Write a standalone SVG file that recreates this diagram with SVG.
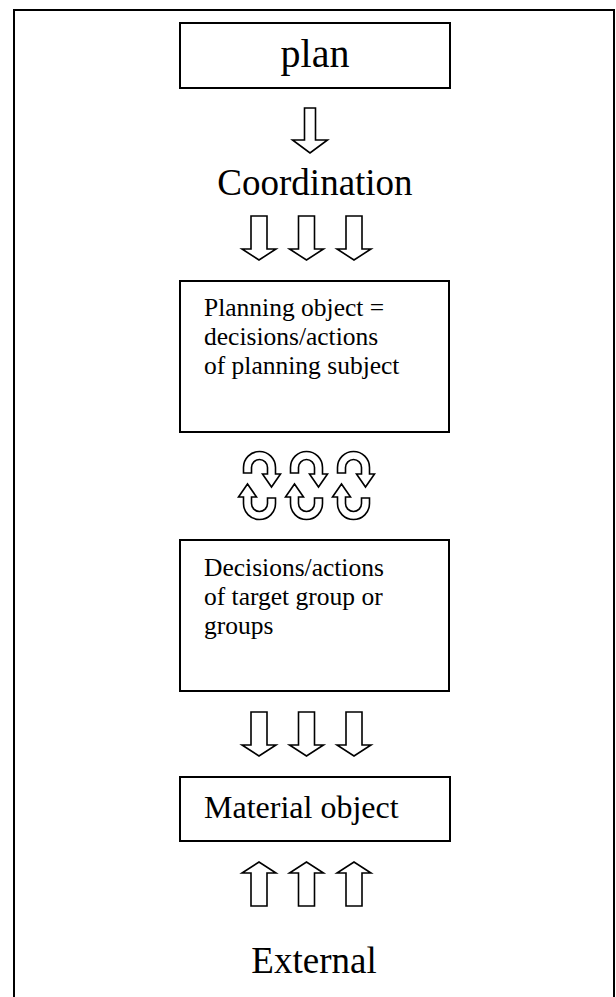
<svg xmlns="http://www.w3.org/2000/svg" xmlns:xlink="http://www.w3.org/1999/xlink" width="616" height="997" viewBox="0 0 616 997">
<style>
.box{fill:#fff;stroke:#000;stroke-width:2}
.arr{fill:#fff;stroke:#000;stroke-width:1.6;stroke-linejoin:miter}
.big{font-family:"Liberation Serif","Times New Roman",serif;font-size:37px;fill:#000;text-anchor:middle}
.sm{font-family:"Liberation Serif","Times New Roman",serif;font-size:25.5px;fill:#000}
.md{font-family:"Liberation Serif","Times New Roman",serif;font-size:32px;fill:#000}
</style>
<defs>
<path id="down" d="M-8,0 L8,0 L8,33 L17,33 L0,44 L-17,33 L-8,33 Z"/>
<path id="down1" d="M-5.5,0 L5.5,0 L5.5,32 L17.5,32 L0,45 L-17.5,32 L-5.5,32 Z"/>
<path id="uturn" d="M-16,-12.5 L-16,-18 A16,16 0 0 1 16,-18 L16,-11.5 L21,-11.5 L12,1.5 L3,-11.5 L8,-11.5 L8,-18 A8,8 0 0 0 -8,-18 L-8,-12.5 Z"/>
</defs>
<rect id="frame" x="14" y="10" width="600" height="1000" fill="#fff" stroke="#000" stroke-width="2"/>
<g id="plan">
<rect class="box" x="180" y="23" width="270" height="65"/>
<text class="big" x="315" y="67" style="font-size:40px">plan</text>
</g>
<g id="coordination">
<text class="big" x="315" y="195">Coordination</text>
</g>
<g id="planning-object">
<rect class="box" x="180" y="281" width="269" height="151"/>
<text class="sm" x="204" y="316">Planning object =</text>
<text class="sm" x="204" y="345">decisions/actions</text>
<text class="sm" x="204" y="374">of planning subject</text>
</g>
<g id="target-group">
<rect class="box" x="180" y="540" width="269" height="151"/>
<text class="sm" x="204" y="576">Decisions/actions</text>
<text class="sm" x="204" y="605">of target group or</text>
<text class="sm" x="204" y="634">groups</text>
</g>
<g id="material-object">
<rect class="box" x="180" y="777" width="270" height="64"/>
<text class="md" x="204" y="818">Material object</text>
</g>
<g id="external">
<text class="big" x="314" y="973">External</text>
</g>
<g id="connectors">
<use xlink:href="#down1" class="arr" transform="translate(310,108)"/>
<use xlink:href="#down" class="arr" transform="translate(259,216)"/>
<use xlink:href="#down" class="arr" transform="translate(306.5,216)"/>
<use xlink:href="#down" class="arr" transform="translate(354,216)"/>
<use xlink:href="#uturn" class="arr" transform="translate(259.5,485.5)"/>
<use xlink:href="#uturn" class="arr" transform="translate(306.5,485.5)"/>
<use xlink:href="#uturn" class="arr" transform="translate(353.5,485.5)"/>
<use xlink:href="#uturn" class="arr" transform="translate(259.5,485.5) rotate(180)"/>
<use xlink:href="#uturn" class="arr" transform="translate(306.5,485.5) rotate(180)"/>
<use xlink:href="#uturn" class="arr" transform="translate(353.5,485.5) rotate(180)"/>
<use xlink:href="#down" class="arr" transform="translate(259,712)"/>
<use xlink:href="#down" class="arr" transform="translate(306.5,712)"/>
<use xlink:href="#down" class="arr" transform="translate(354,712)"/>
<use xlink:href="#down" class="arr" transform="translate(259,906) scale(1,-1)"/>
<use xlink:href="#down" class="arr" transform="translate(306.5,906) scale(1,-1)"/>
<use xlink:href="#down" class="arr" transform="translate(354,906) scale(1,-1)"/>
</g>
</svg>
